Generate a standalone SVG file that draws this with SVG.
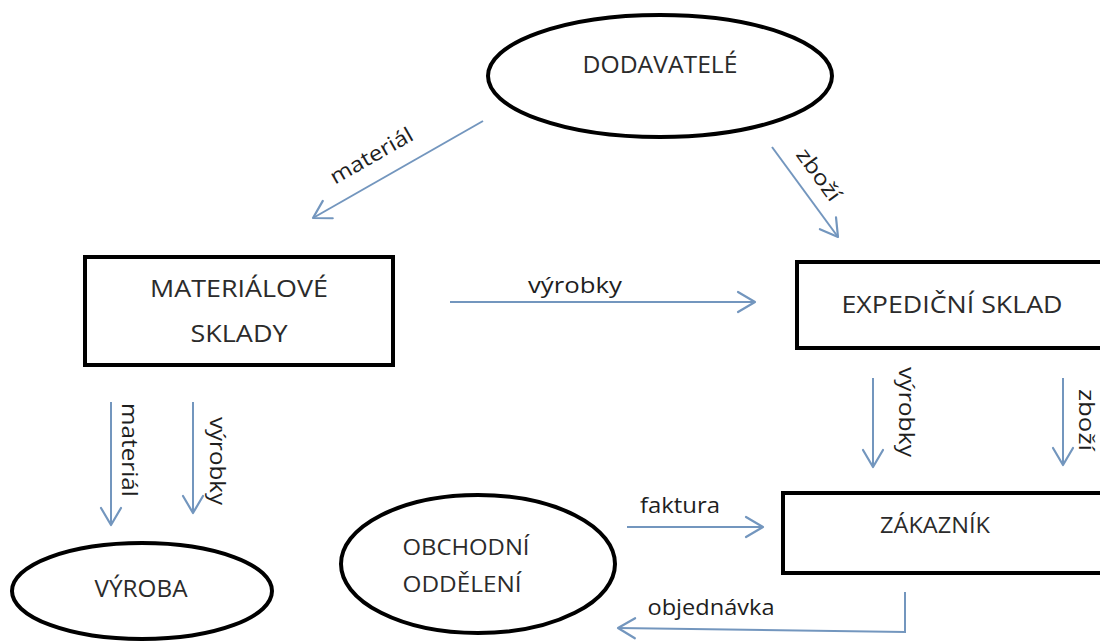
<svg xmlns="http://www.w3.org/2000/svg" width="1100" height="641" viewBox="0 0 1100 641">
  <style>
    .shape { fill: #ffffff; stroke: #000000; stroke-width: 4; }
    .node-text { font-family: "Open Sans", "Liberation Sans", sans-serif; fill: #2b2b2b; text-anchor: middle; }
    .flow { fill: none; stroke: #7396be; stroke-width: 2; marker-end: url(#chevron); }
    .flow-label { font-family: "Open Sans", "Liberation Sans", sans-serif; font-size: 21px; fill: #1e1e1e; text-anchor: middle; }
  </style>
  <defs>
    <marker id="chevron" markerUnits="userSpaceOnUse" viewBox="-20 -12 22 24" refX="0" refY="0" markerWidth="22" markerHeight="24" orient="auto">
      <path d="M-17,-10 L0,0 L-17,10" fill="none" stroke="#7396be" stroke-width="2.2" stroke-linecap="round" stroke-linejoin="round"/>
    </marker>
  </defs>

  <rect width="1100" height="641" fill="#ffffff"/>

  <!-- Nodes -->
  <g id="dodavatele">
    <ellipse class="shape" cx="660" cy="76" rx="172" ry="61"/>
    <text class="node-text" x="660" y="73" font-size="23" textLength="155" lengthAdjust="spacingAndGlyphs">DODAVATELÉ</text>
  </g>

  <g id="materialove-sklady">
    <rect class="shape" x="85" y="257" width="308" height="108"/>
    <text class="node-text" x="239" y="297" font-size="24" textLength="178" lengthAdjust="spacingAndGlyphs">MATERIÁLOVÉ</text>
    <text class="node-text" x="239" y="342" font-size="24" textLength="97" lengthAdjust="spacingAndGlyphs">SKLADY</text>
  </g>

  <g id="expedicni-sklad">
    <rect class="shape" x="797" y="262" width="320" height="86"/>
    <text class="node-text" x="952" y="313" font-size="24" textLength="221" lengthAdjust="spacingAndGlyphs">EXPEDIČNÍ SKLAD</text>
  </g>

  <g id="zakaznik">
    <rect class="shape" x="783" y="493" width="340" height="80"/>
    <text class="node-text" x="935" y="533" font-size="21" textLength="110" lengthAdjust="spacingAndGlyphs">ZÁKAZNÍK</text>
  </g>

  <g id="vyroba">
    <ellipse class="shape" cx="142" cy="591" rx="130" ry="48"/>
    <text class="node-text" x="141" y="597" font-size="23" textLength="93" lengthAdjust="spacingAndGlyphs">VÝROBA</text>
  </g>

  <g id="obchodni-oddeleni">
    <ellipse class="shape" cx="478" cy="564" rx="137" ry="69"/>
    <text class="node-text" x="466" y="555" font-size="22" textLength="127" lengthAdjust="spacingAndGlyphs">OBCHODNÍ</text>
    <text class="node-text" x="462" y="592" font-size="22" textLength="119" lengthAdjust="spacingAndGlyphs">ODDĚLENÍ</text>
  </g>

  <!-- Connectors -->
  <g id="connectors">
    <line class="flow" x1="483" y1="121" x2="313" y2="218"/>
    <text class="flow-label" transform="translate(375,162) rotate(-29.7)" textLength="92" lengthAdjust="spacingAndGlyphs">materiál</text>

    <line class="flow" x1="772" y1="147" x2="838" y2="237"/>
    <text class="flow-label" transform="translate(813,179) rotate(53.7)" textLength="60" lengthAdjust="spacingAndGlyphs">zboží</text>

    <line class="flow" x1="450" y1="302" x2="755" y2="302"/>
    <text class="flow-label" x="575" y="293" textLength="94" lengthAdjust="spacingAndGlyphs">výrobky</text>

    <line class="flow" x1="111" y1="402" x2="111" y2="525"/>
    <text class="flow-label" transform="translate(122,450) rotate(90)" textLength="94" lengthAdjust="spacingAndGlyphs">materiál</text>

    <line class="flow" x1="193" y1="402" x2="193" y2="513"/>
    <text class="flow-label" transform="translate(210,461) rotate(90)" textLength="88" lengthAdjust="spacingAndGlyphs">výrobky</text>

    <line class="flow" x1="873" y1="378" x2="873" y2="467"/>
    <text class="flow-label" transform="translate(899,412) rotate(90)" textLength="90" lengthAdjust="spacingAndGlyphs">výrobky</text>

    <line class="flow" x1="1063" y1="378" x2="1063" y2="465"/>
    <text class="flow-label" transform="translate(1079,420) rotate(90)" font-size="20" textLength="62" lengthAdjust="spacingAndGlyphs">zboží</text>

    <line class="flow" x1="627" y1="527" x2="763" y2="527"/>
    <text class="flow-label" x="680" y="513" textLength="80" lengthAdjust="spacingAndGlyphs">faktura</text>

    <polyline class="flow" points="905,592 905,632 618,628"/>
    <text class="flow-label" x="711" y="615" textLength="127" lengthAdjust="spacingAndGlyphs">objednávka</text>
  </g>
</svg>
